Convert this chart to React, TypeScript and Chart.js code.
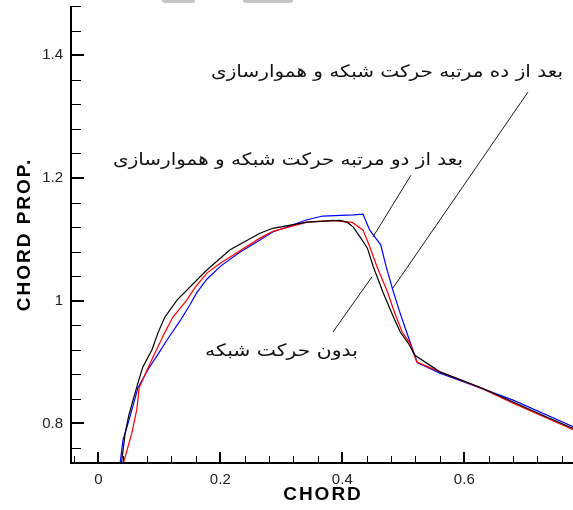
import React, { useEffect, useRef } from "react";
import { Chart, registerables } from "chart.js";

Chart.register(...registerables);

// ---- data ----
const seriesNames = ["بدون حرکت شبکه", "بعد از دو مرتبه حرکت شبکه و هموارسازی", "بعد از ده مرتبه حرکت شبکه و هموارسازی"];

const blackX = [0.036, 0.038, 0.044, 0.050, 0.057, 0.065, 0.073, 0.088, 0.098, 0.109, 0.129, 0.178, 0.216, 0.265, 0.286, 0.342, 0.396, 0.408, 0.418, 0.429, 0.441, 0.451, 0.467, 0.484, 0.495, 0.508, 0.519, 0.560, 0.626, 0.680, 0.736, 0.780];
const blackY = [0.720, 0.735, 0.784, 0.813, 0.838, 0.866, 0.892, 0.920, 0.948, 0.973, 1.001, 1.050, 1.083, 1.110, 1.118, 1.128, 1.131, 1.128, 1.120, 1.104, 1.086, 1.055, 1.013, 0.973, 0.949, 0.931, 0.911, 0.884, 0.859, 0.835, 0.810, 0.791];

const redX = [0.039, 0.041, 0.055, 0.063, 0.067, 0.080, 0.093, 0.109, 0.122, 0.145, 0.159, 0.178, 0.200, 0.227, 0.265, 0.286, 0.342, 0.385, 0.408, 0.416, 0.434, 0.445, 0.457, 0.473, 0.486, 0.498, 0.511, 0.522, 0.560, 0.626, 0.680, 0.780];
const redY = [0.720, 0.735, 0.784, 0.822, 0.858, 0.887, 0.915, 0.948, 0.973, 1.001, 1.022, 1.045, 1.061, 1.078, 1.102, 1.113, 1.128, 1.131, 1.128, 1.128, 1.115, 1.088, 1.055, 1.017, 0.980, 0.949, 0.931, 0.900, 0.884, 0.858, 0.833, 0.789];

const blueX = [0.034, 0.0357, 0.0405, 0.047, 0.055, 0.065, 0.081, 0.098, 0.114, 0.134, 0.150, 0.162, 0.178, 0.200, 0.232, 0.265, 0.286, 0.342, 0.368, 0.418, 0.434, 0.445, 0.463, 0.472, 0.483, 0.493, 0.503, 0.511, 0.523, 0.560, 0.626, 0.680, 0.780];
const blueY = [0.720, 0.735, 0.773, 0.794, 0.822, 0.858, 0.887, 0.913, 0.938, 0.967, 0.993, 1.014, 1.035, 1.056, 1.079, 1.099, 1.112, 1.132, 1.138, 1.140, 1.141, 1.115, 1.091, 1.055, 1.017, 0.985, 0.956, 0.933, 0.899, 0.882, 0.858, 0.838, 0.794];

const xTickValues = [0, 0.2, 0.4, 0.6];
const yTickValues = [0.8, 1, 1.2, 1.4];
const xTitle = "CHORD";
const yTitle = "CHORD PROP.";

// leader lines [x1, y1, x2, y2] in data units
const leaderBlack = [0.3847, 0.949, 0.4487, 1.039];
const leaderRed = [0.5125, 1.2045, 0.4503, 1.104];
const leaderBlue = [0.7044, 1.34, 0.4831, 1.0207];

// label anchors (right edge, middle) in data units
const labelBlack = [0.4257, 0.9164];
const labelRed = [0.5979, 1.2277];
const labelBlue = [0.7618, 1.3725];

const X_MIN = -0.04475;
const X_MAX = 0.7782;
const Y_MIN = 0.73545;
const Y_MAX = 1.48036;

function toPts(xs: number[], ys: number[]) {
  return xs.map((x, i) => ({ x, y: ys[i] }));
}

const decoPlugin = {
  id: "deco",
  afterDatasetsDraw(chart: any) {
    const { ctx, chartArea } = chart;
    const xs = chart.scales.x;
    const ys = chart.scales.y;
    const L = chartArea.left;
    const B = chartArea.bottom;
    ctx.save();
    ctx.strokeStyle = "#000";
    // axis lines
    ctx.lineWidth = 2;
    ctx.beginPath();
    ctx.moveTo(L, chartArea.top);
    ctx.lineTo(L, B + 1);
    ctx.moveTo(L - 1, B);
    ctx.lineTo(chartArea.right, B);
    ctx.stroke();
    // y ticks
    for (let k = Math.ceil(Y_MIN / 0.04); k * 0.04 <= Y_MAX + 1e-9; k++) {
      const v = k * 0.04;
      const major = yTickValues.some((t) => Math.abs(t - v) < 1e-6);
      const p = Math.round(ys.getPixelForValue(v));
      ctx.lineWidth = major ? 2 : 1;
      ctx.beginPath();
      const yy = major ? p : p + 0.5;
      ctx.moveTo(L + 1, yy);
      ctx.lineTo(L + (major ? 13 : 10), yy);
      ctx.stroke();
    }
    // x ticks
    for (let k = Math.ceil(X_MIN / 0.04); k * 0.04 <= X_MAX + 1e-9; k++) {
      const v = k * 0.04;
      const major = xTickValues.some((t) => Math.abs(t - v) < 1e-6);
      const p = Math.round(xs.getPixelForValue(v));
      ctx.lineWidth = major ? 2 : 1;
      ctx.beginPath();
      const xx = major ? p : p + 0.5;
      ctx.moveTo(xx, B - 1);
      ctx.lineTo(xx, B - (major ? 11 : 7));
      ctx.stroke();
    }
    // leader lines
    ctx.lineWidth = 1;
    ctx.strokeStyle = "#1a1a1a";
    for (const l of [leaderBlack, leaderRed, leaderBlue]) {
      ctx.beginPath();
      ctx.moveTo(xs.getPixelForValue(l[0]), ys.getPixelForValue(l[1]));
      ctx.lineTo(xs.getPixelForValue(l[2]), ys.getPixelForValue(l[3]));
      ctx.stroke();
    }
    // labels
    ctx.fillStyle = "#111";
    ctx.direction = "rtl";
    ctx.textAlign = "right";
    ctx.textBaseline = "middle";
    const labels: [string, number[], number][] = [
      [seriesNames[0], labelBlack, 153],
      [seriesNames[1], labelRed, 350],
      [seriesNames[2], labelBlue, 352],
    ];
    for (const [txt, pos, target] of labels) {
      ctx.font = "17px 'DejaVu Sans'";
      const w = ctx.measureText(txt).width;
      const sx = target / w;
      const px = xs.getPixelForValue(pos[0]);
      const py = ys.getPixelForValue(pos[1]);
      ctx.save();
      ctx.translate(px, py);
      ctx.scale(sx, 1);
      ctx.fillText(txt, 0, 0);
      ctx.restore();
    }
    // axis titles
    ctx.direction = "ltr";
    ctx.fillStyle = "#000";
    ctx.font = "bold 19px 'Liberation Sans'";
    (ctx as any).letterSpacing = "2px";
    ctx.textAlign = "center";
    ctx.fillText(xTitle, (chartArea.left + chartArea.right) / 2 + 1, 495);
    ctx.save();
    ctx.translate(25, (chartArea.top + chartArea.bottom) / 2);
    ctx.rotate(-Math.PI / 2);
    ctx.fillText(yTitle, 0, 0);
    ctx.restore();
    (ctx as any).letterSpacing = "0px";
    ctx.restore();
  },
};

export default function App() {
  const ref = useRef<HTMLCanvasElement | null>(null);
  useEffect(() => {
    if (!ref.current) return;
    const chart = new Chart(ref.current, {
      type: "line",
      data: {
        datasets: [
          { label: seriesNames[0], data: toPts(blackX, blackY), borderColor: "#000000", borderWidth: 1.2, pointRadius: 0, tension: 0, fill: false },
          { label: seriesNames[1], data: toPts(redX, redY), borderColor: "#ff0000", borderWidth: 1.2, pointRadius: 0, tension: 0, fill: false },
          { label: seriesNames[2], data: toPts(blueX, blueY), borderColor: "#0000ff", borderWidth: 1.2, pointRadius: 0, tension: 0, fill: false },
        ],
      },
      options: {
        responsive: false,
        animation: false,
        devicePixelRatio: 1,
        parsing: false as any,
        layout: { padding: { top: 6, right: 0, left: 0, bottom: 0 } },
        plugins: { legend: { display: false }, tooltip: { enabled: false } },
        scales: {
          x: {
            type: "linear",
            min: X_MIN,
            max: X_MAX,
            grid: { display: false, drawTicks: false },
            border: { display: false },
            afterBuildTicks: (s: any) => { s.ticks = xTickValues.map((v) => ({ value: v })); },
            afterFit: (s: any) => { s.height = 47; s.paddingLeft = 0; s.paddingRight = 0; },
            ticks: {
              padding: 8,
              autoSkip: false,
              maxRotation: 0,
              color: "#222",
              font: { family: "'Liberation Sans'", size: 15 },
              callback: (v: any) => String(Math.round(Number(v) * 10) / 10),
            },
          },
          y: {
            type: "linear",
            min: Y_MIN,
            max: Y_MAX,
            grid: { display: false, drawTicks: false },
            border: { display: false },
            afterBuildTicks: (s: any) => { s.ticks = yTickValues.map((v) => ({ value: v })); },
            afterFit: (s: any) => { s.width = 71; s.paddingTop = 0; s.paddingBottom = 0; },
            ticks: {
              padding: 8,
              autoSkip: false,
              color: "#222",
              font: { family: "'Liberation Sans'", size: 15 },
              callback: (v: any) => String(Math.round(Number(v) * 10) / 10),
            },
          },
        },
      },
      plugins: [decoPlugin],
    });
    return () => chart.destroy();
  }, []);
  return (
    <div style={{ position: "fixed", left: 0, top: 0, width: 573, height: 510, background: "#fff" }}>
      <canvas ref={ref} width={573} height={510} style={{ display: "block" }} />
      <div style={{ position: "absolute", left: 162, top: 0, width: 33, height: 3, background: "#c4c4c4", borderRadius: "0 0 3px 3px" }} />
      <div style={{ position: "absolute", left: 243, top: 0, width: 50, height: 3, background: "#c4c4c4", borderRadius: "0 0 3px 3px" }} />
    </div>
  );
}
